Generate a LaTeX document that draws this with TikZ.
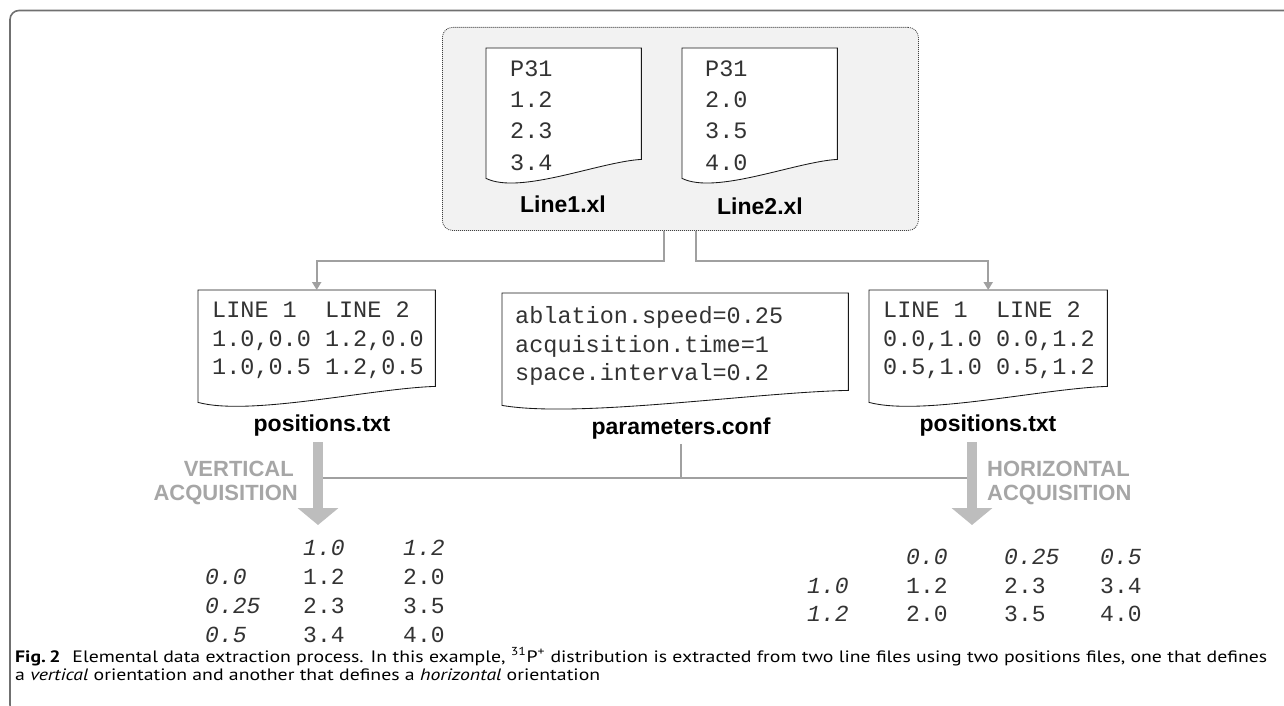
\documentclass[tikz,border=0pt]{standalone}
\usepackage{fontspec}
\usepackage{graphicx}
\usetikzlibrary{arrows.meta,calc}
\setmainfont{Liberation Sans}
\newfontfamily\monof{Liberation Mono}
\newfontfamily\labf{Liberation Sans}
\newfontfamily\capf{PT Sans}
\definecolor{framegray}{HTML}{707070}
\definecolor{boxfill}{HTML}{F2F2F2}
\definecolor{conngray}{HTML}{A0A0A0}
\definecolor{arrowgray}{HTML}{BDBDBD}
\definecolor{labgray}{HTML}{A6A6A6}
\definecolor{monotext}{HTML}{333333}

% wavy-bottom file outline around an (invisible) node; #2 = rise of the right corner
\newcommand\docoutline[2]{%
  \draw[docline] let \p1=(#1.north west), \p2=(#1.south east) in
    (\x1,\y1) -- (\x2,\y1) -- (\x2,\y2+#2pt)
    .. controls (\x1+0.73*\x2-0.73*\x1,\y2+0.875*#2pt)
           and (\x1+0.22*\x2-0.22*\x1,\y2-0.875*#2pt) .. (\x1,\y2) -- cycle;}

\newcommand\capfont{\capf\fontsize{16.5}{20}\selectfont}
\newcommand\capone{\textbf{Fig.\,2}\hspace{0.6em}Elemental data extraction process. In this example, \textsuperscript{31}P\textsuperscript{+} distribution is extracted from two line files using two positions files, one that defines}
\newcommand\captwo{a \textit{vertical} orientation and another that defines a \textit{horizontal} orientation}
\newlength\capw
\newsavebox\caponebox

\begin{document}
\sbox\caponebox{\capfont\capone}%
\setlength\capw{\wd\caponebox}%
\pgfmathsetmacro\capsx{1252/(\capw/1pt)}%
\begin{tikzpicture}[x=1pt,y=-1pt,
  mono/.style={font=\monof\fontsize{23.5}{28}\selectfont, text=monotext, inner sep=0pt, anchor=base west},
  tab/.style={font=\monof\fontsize{23}{28}\selectfont, text=monotext, inner sep=0pt, anchor=base west},
  tabit/.style={font=\monof\itshape\fontsize{23}{28}\selectfont, text=monotext, inner sep=0pt, anchor=base west},
  filelab/.style={font=\labf\bfseries\fontsize{23}{28}\selectfont, inner sep=0pt, anchor=base},
  acqlab/.style={font=\labf\bfseries\fontsize{22}{26}\selectfont, text=labgray, inner sep=0pt},
  docbox/.style={rectangle, draw=none, inner sep=0pt, anchor=north west},
  docline/.style={draw=black!90, line width=0.85pt, fill=white},
  conn/.style={draw=conngray, line width=2pt},
  connarrow/.style={conn, -{Triangle[length=8pt,width=9pt]}},
  bigarrow/.style={draw=arrowgray, line width=10pt, -{Triangle[length=17pt,width=40pt]}},
  capt/.style={inner sep=0pt, anchor=base west}]
\useasboundingbox (0,0) rectangle (1284,706);

% outer figure frame
\draw[framegray, line width=1.6pt, rounded corners=9pt] (1290,10.5) -- (10,10.5) -- (10,714) -- (40,714);

% group holding the two line files
\node[docbox, draw=black!75, dash pattern=on 1pt off 1pt, line width=0.8pt,
      fill=boxfill, rounded corners=10pt, minimum width=476pt, minimum height=203pt]
      (src) at (442,27) {};

% file frames
\node[docbox, minimum width=155pt, minimum height=130pt] (doc1) at (486,48) {};
\node[docbox, minimum width=155pt, minimum height=130pt] (doc2) at (682,48) {};
\node[docbox, minimum width=237pt, minimum height=112pt] (posL) at (198,290) {};
\node[docbox, minimum width=346pt, minimum height=112pt] (par) at (502,293) {};
\node[docbox, minimum width=238pt, minimum height=112pt] (posR) at (869,290) {};
\docoutline{doc1}{19}
\docoutline{doc2}{19}
\docoutline{posL}{16}
\docoutline{par}{15}
\docoutline{posR}{16}

% file contents
\foreach \t [count=\i] in {P31,1.2,2.3,3.4}
  \node[mono] (d1t\i) at (510,{77+31*(\i-1)}) {\t};
\foreach \t [count=\i] in {P31,2.0,3.5,4.0}
  \node[mono] (d2t\i) at (705,{77+31*(\i-1)}) {\t};
\node[mono] (pl1) at (212,317) {LINE 1\ \ LINE 2};
\node[mono] (pl2) at (212,346) {1.0,0.0 1.2,0.0};
\node[mono] (pl3) at (212,374) {1.0,0.5 1.2,0.5};
\node[mono] (pa1) at (515,323) {ablation.speed=0.25};
\node[mono] (pa2) at (515,352) {acquisition.time=1};
\node[mono] (pa3) at (515,380) {space.interval=0.2};
\node[mono] (pr1) at (883,317) {LINE 1\ \ LINE 2};
\node[mono] (pr2) at (883,346) {0.0,1.0 0.0,1.2};
\node[mono] (pr3) at (883,374) {0.5,1.0 0.5,1.2};

% file names
\node[filelab] (lab1) at (563,212) {Line1.xl};
\node[filelab] (lab2) at (760,214) {Line2.xl};
\node[filelab] (labL) at (322,431) {positions.txt};
\node[filelab] (labP) at (681,434) {parameters.conf};
\node[filelab] (labR) at (988,431) {positions.txt};

% links from the line files to the two positions files
\draw[connarrow] ([xshift=-16pt]src.south) -- ++(0,30) -| (posL.north);
\draw[connarrow] ([xshift=16pt]src.south) -- ++(0,30) -| (posR.north);

% acquisition arrows and the parameters link
\coordinate (hl) at (0,478);
\coordinate (aLs) at (318,442);
\coordinate (aLe) at (318,525);
\coordinate (aRs) at (972,442);
\coordinate (aRe) at (972,525);
\draw[conn] ([yshift=-5pt]labP.south) -- (labP.south |- hl);
\draw[conn] (aLs |- hl) -- (aRs |- hl);
\draw[bigarrow] (aLs) -- (aLe);
\draw[bigarrow] (aRs) -- (aRe);
\node[acqlab, anchor=base east] (vA1) at (294,476) {VERTICAL};
\node[acqlab, anchor=base east] (vA2) at (298,500) {ACQUISITION};
\node[acqlab, anchor=base west] (hA1) at (987,476) {HORIZONTAL};
\node[acqlab, anchor=base west] (hA2) at (987,500) {ACQUISITION};

% vertical result table
\node[tabit] (vh1) at (303,555) {1.0};
\node[tabit] (vh2) at (403,555) {1.2};
\foreach \r/\a/\b [count=\i] in {0.0/1.2/2.0, 0.25/2.3/3.5, 0.5/3.4/4.0} {
  \node[tabit] (vr\i) at (205,{584+29*(\i-1)}) {\r};
  \node[tab] (va\i) at (303,{584+29*(\i-1)}) {\a};
  \node[tab] (vb\i) at (403,{584+29*(\i-1)}) {\b};
}

% horizontal result table
\node[tabit] (hh1) at (906,564) {0.0};
\node[tabit] (hh2) at (1004,564) {0.25};
\node[tabit] (hh3) at (1100,564) {0.5};
\foreach \r/\a/\b/\c [count=\i] in {1.0/1.2/2.3/3.4, 1.2/2.0/3.5/4.0} {
  \node[tabit] (hr\i) at (807,{593+28*(\i-1)}) {\r};
  \node[tab] (ha\i) at (906,{593+28*(\i-1)}) {\a};
  \node[tab] (hb\i) at (1004,{593+28*(\i-1)}) {\b};
  \node[tab] (hc\i) at (1100,{593+28*(\i-1)}) {\c};
}

% caption
\node[capt] (cap1) at (15,662) {\scalebox{\capsx}[1]{\capfont\capone}};
\node[capt] (cap2) at (15,680) {\scalebox{\capsx}[1]{\capfont\captwo}};
\end{tikzpicture}
\end{document}
